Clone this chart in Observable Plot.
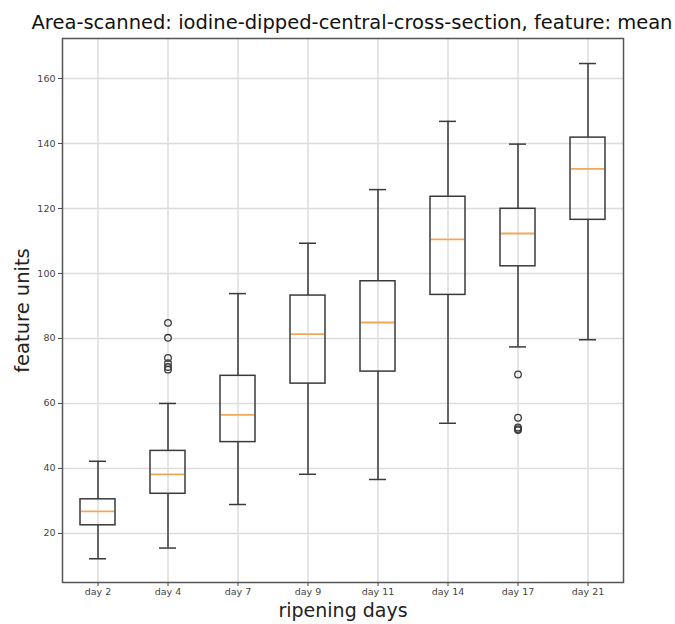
<!DOCTYPE html>
<html>
<head>
<meta charset="utf-8">
<script src="https://cdn.jsdelivr.net/npm/d3@7"></script>
<script src="https://cdn.jsdelivr.net/npm/@observablehq/plot@0.6"></script>
<style>
  html, body { margin: 0; padding: 0; background: #fff; }
</style>
</head>
<body>
<div id="chart"></div>
<script>
const days = ["day 2", "day 4", "day 7", "day 9", "day 11", "day 14", "day 17", "day 21"];
const whiskerLow = [12.2, 15.5, 28.9, 38.2, 36.6, 53.9, 77.4, 79.6];
const q1 = [22.5, 32.2, 48.1, 66.1, 69.8, 93.4, 102.2, 116.5];
const medians = [26.8, 38.2, 56.5, 81.3, 84.9, 110.5, 112.3, 132.2];
const q3 = [30.5, 45.4, 68.5, 93.2, 97.6, 123.6, 119.9, 141.8];
const whiskerHigh = [42.2, 60.0, 93.8, 109.3, 125.8, 146.8, 139.8, 164.6];
const outlierDays = ["day 4", "day 4", "day 4", "day 4", "day 4", "day 4", "day 17", "day 17", "day 17", "day 17", "day 17"];
const outlierValues = [84.8, 80.2, 74.0, 72.4, 71.2, 70.4, 68.9, 55.6, 52.6, 52.1, 51.8];
const yTicks = [20, 40, 60, 80, 100, 120, 140, 160];

const title = "Area-scanned: iodine-dipped-central-cross-section, feature: mean";
const xLabel = "ripening days";
const yLabel = "feature units";

const boxes = days.map((d, i) => ({
  day: d, lo: whiskerLow[i], q1: q1[i], med: medians[i], q3: q3[i], hi: whiskerHigh[i]
}));
const outliers = outlierDays.map((d, i) => ({day: d, value: outlierValues[i]}));

const ink = "#3a3a3a";
const font = "DejaVu Sans, sans-serif";

const chart = Plot.plot({
  width: 675,
  height: 624,
  marginLeft: 62,
  marginRight: 52,
  marginTop: 38,
  marginBottom: 42,
  style: {fontFamily: font, fontSize: "9.5px", color: "#444", background: "#fff"},
  x: {type: "band", domain: days, paddingInner: 0.5, paddingOuter: 0.25, align: 0.5, tickSize: 4, tickPadding: 2, label: null},
  y: {domain: [4.9, 172.3], ticks: yTicks, tickSize: 4, tickPadding: 3, label: null},
  marks: [
    Plot.ruleY(yTicks, {stroke: "#dcdcdc", strokeWidth: 1.5}),
    Plot.ruleX(days, {x: d => d, stroke: "#dcdcdc", strokeWidth: 1.5}),
    Plot.ruleX(boxes, {x: "day", y1: "lo", y2: "q1", stroke: ink, strokeWidth: 1.5}),
    Plot.ruleX(boxes, {x: "day", y1: "q3", y2: "hi", stroke: ink, strokeWidth: 1.5}),
    Plot.tickY(boxes, {x: "day", y: "lo", stroke: ink, strokeWidth: 1.5, insetLeft: 9, insetRight: 9}),
    Plot.tickY(boxes, {x: "day", y: "hi", stroke: ink, strokeWidth: 1.5, insetLeft: 9, insetRight: 9}),
    Plot.barY(boxes, {x: "day", y1: "q1", y2: "q3", fill: "none", stroke: ink, strokeWidth: 1.5}),
    Plot.tickY(boxes, {x: "day", y: "med", stroke: "#f2a65a", strokeWidth: 1.8, insetLeft: 1, insetRight: 1}),
    Plot.dot(outliers, {x: "day", y: "value", r: 3.3, stroke: ink, strokeWidth: 1.3, fill: "none"}),
    Plot.frame({stroke: "#555", strokeWidth: 1.5}),
    Plot.text([title], {frameAnchor: "top", textAnchor: "middle", dx: 9, dy: -16, text: d => d, fontSize: 19.5, fill: "#111", fontFamily: font, lineAnchor: "middle"}),
    Plot.text([xLabel], {frameAnchor: "bottom", textAnchor: "middle", dy: 28, text: d => d, fontSize: 19, fill: "#222", fontFamily: font, lineAnchor: "middle"}),
    Plot.text([yLabel], {frameAnchor: "left", textAnchor: "middle", dx: -40, rotate: -90, text: d => d, fontSize: 19.5, fill: "#222", fontFamily: font, lineAnchor: "middle"})
  ]
});
document.getElementById("chart").appendChild(chart);
</script>
</body>
</html>
